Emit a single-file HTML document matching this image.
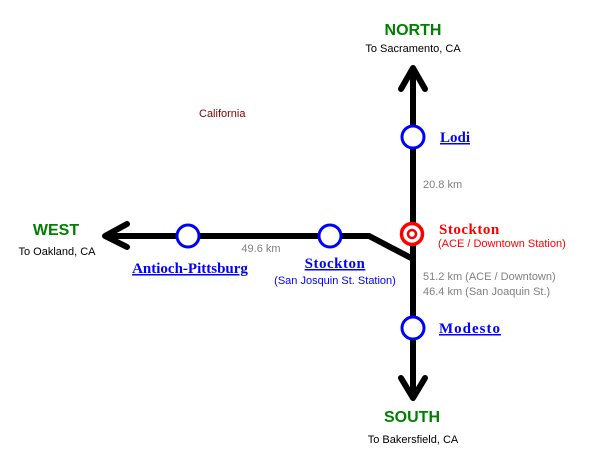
<!DOCTYPE html>
<html><head><meta charset="utf-8"><style>
html,body{margin:0;padding:0;background:#fff;}
svg{display:block;}
text{font-family:"Liberation Sans",Arial,sans-serif;}
text.s{font-family:"Liberation Serif","Times New Roman",serif;font-weight:bold;font-size:15px;text-decoration:underline;}
text.r{font-family:"Liberation Serif","Times New Roman",serif;font-weight:bold;font-size:15px;}
</style></head><body>
<svg width="603" height="471" viewBox="0 0 603 471" xmlns="http://www.w3.org/2000/svg">
<g stroke="#000" stroke-width="6" fill="none" stroke-linecap="round" stroke-linejoin="round">
<line x1="413" y1="70" x2="413" y2="396"/>
<polyline points="401,89 413,68 425,89"/>
<polyline points="401,378 413,398 425,378"/>
<polyline points="107,236 369,236 413,259" stroke-linecap="butt" stroke-linejoin="miter"/>
<polyline points="127,224 105,236 127,247"/>
</g>
<g fill="#fff" stroke="#0000ff" stroke-width="3">
<circle cx="413" cy="137" r="11"/>
<circle cx="413" cy="328" r="11"/>
<circle cx="188" cy="236" r="11"/>
<circle cx="330" cy="236" r="11"/>
</g>
<circle cx="412" cy="234" r="10.5" fill="#fff" stroke="#ff0000" stroke-width="3.5"/>
<circle cx="412" cy="234" r="4" fill="#fff" stroke="#ff0000" stroke-width="2.5"/>
<text x="413" y="35" text-anchor="middle" font-weight="bold" font-size="16" fill="#008000">NORTH</text>
<text x="413" y="52" text-anchor="middle" font-size="11" fill="#000">To Sacramento, CA</text>
<text x="412" y="422" text-anchor="middle" font-weight="bold" font-size="16" fill="#008000">SOUTH</text>
<text x="413" y="443" text-anchor="middle" font-size="11" fill="#000">To Bakersfield, CA</text>
<text x="56" y="235" text-anchor="middle" font-weight="bold" font-size="16" fill="#008000">WEST</text>
<text x="57" y="255" text-anchor="middle" font-size="11" fill="#000">To Oakland, CA</text>
<text x="199" y="117" font-size="11" fill="#800000">California</text>
<text class="s" x="440" y="142" fill="#0000ff">Lodi</text>
<text class="s" x="439" y="333" fill="#0000ff" letter-spacing="1">Modesto</text>
<text class="s" x="190" y="273" text-anchor="middle" fill="#0000ff">Antioch-Pittsburg</text>
<text class="s" x="335" y="268" text-anchor="middle" fill="#0000ff" letter-spacing="0.5">Stockton</text>
<text x="335" y="284" text-anchor="middle" font-size="11" fill="#0000ff">(San Josquin St. Station)</text>
<text class="r" x="439" y="234" fill="#ff0000" letter-spacing="0.5">Stockton</text>
<text x="438" y="247" font-size="11" fill="#ff0000">(ACE / Downtown Station)</text>
<text x="423" y="188" font-size="11" fill="#808080">20.8 km</text>
<text x="423" y="280" font-size="11" fill="#808080">51.2 km (ACE / Downtown)</text>
<text x="423" y="295" font-size="11" fill="#808080">46.4 km (San Joaquin St.)</text>
<text x="261" y="252" text-anchor="middle" font-size="11" fill="#808080">49.6 km</text>
</svg>
</body></html>
